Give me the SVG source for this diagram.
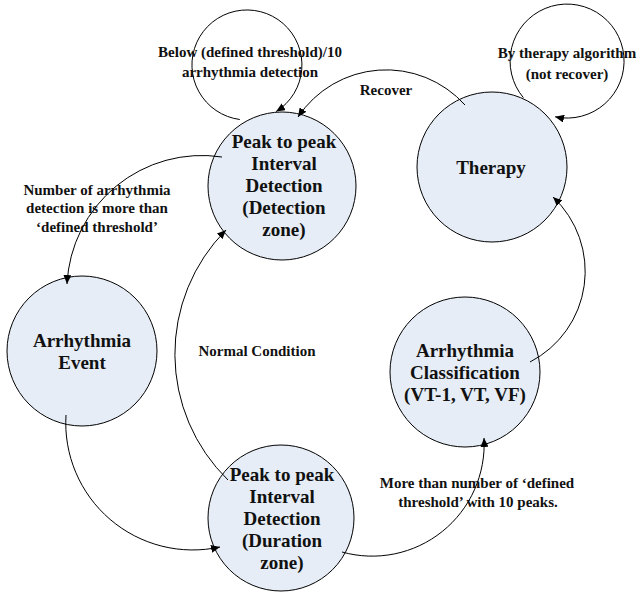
<svg xmlns="http://www.w3.org/2000/svg" width="638" height="595" viewBox="0 0 638 595">
<defs>
<style>
.node{fill:#E6EDF6;stroke:#000;stroke-width:1}
.nt{font-family:"Liberation Serif","Times New Roman",serif;font-weight:bold;font-size:19px;fill:#111;text-anchor:middle}
.lb{font-family:"Liberation Serif","Times New Roman",serif;font-weight:bold;font-size:15px;fill:#111;text-anchor:middle}
.edge{fill:none;stroke:#000;stroke-width:1;marker-end:url(#arr)}
</style>
<marker id="arr" markerWidth="10" markerHeight="8" refX="9" refY="4" orient="auto" markerUnits="userSpaceOnUse">
<path d="M0,0 L9,4 L0,8 z" fill="#000"/>
</marker>
</defs>
<rect width="638" height="595" fill="#fff"/>
<g id="node-detection">
<circle class="node" cx="282" cy="186" r="74"/>
<text class="nt" x="284" y="147.5">Peak to peak</text>
<text class="nt" x="284" y="169.5">Interval</text>
<text class="nt" x="284" y="191.5">Detection</text>
<text class="nt" x="284" y="213.5">(Detection</text>
<text class="nt" x="284" y="235.5">zone)</text>
</g>
<g id="node-therapy">
<circle class="node" cx="492" cy="167" r="75"/>
<text class="nt" x="491" y="173.5">Therapy</text>
</g>
<g id="node-event">
<circle class="node" cx="82" cy="351" r="75"/>
<text class="nt" x="82" y="346.5">Arrhythmia</text>
<text class="nt" x="82" y="368.5">Event</text>
</g>
<g id="node-classification">
<circle class="node" cx="465" cy="372" r="75"/>
<text class="nt" x="465" y="356.5">Arrhythmia</text>
<text class="nt" x="465" y="378.5">Classification</text>
<text class="nt" x="465" y="400.5">(VT-1, VT, VF)</text>
</g>
<g id="node-duration">
<circle class="node" cx="281" cy="518" r="73"/>
<text class="nt" x="282" y="480.5">Peak to peak</text>
<text class="nt" x="282" y="502.5">Interval</text>
<text class="nt" x="282" y="524.5">Detection</text>
<text class="nt" x="282" y="546.5">(Duration</text>
<text class="nt" x="282" y="568.5">zone)</text>
</g>
<g id="connectors">
<path class="edge" d="M239.8,119.5 A55,55 0 1 1 276.1,111.6"/>
<path class="edge" d="M523.4,97.7 A57,57 0 1 1 555.1,116.8"/>
<path class="edge" d="M465,105 A106,106 0 0 0 298,117"/>
<path class="edge" d="M222,157 A135,135 0 0 0 67,284"/>
<path class="edge" d="M66,415 A127,127 0 0 0 220,547"/>
<path class="edge" d="M228,480 A176,176 0 0 1 226,230"/>
<path class="edge" d="M342,552 A112,112 0 0 0 484,438"/>
<path class="edge" d="M530,362 A102,102 0 0 0 553,197"/>
</g>
<g id="labels">
<text class="lb" x="250" y="57">Below (defined threshold)/10</text>
<text class="lb" x="250" y="77">arrhythmia detection</text>
<text class="lb" x="386" y="95">Recover</text>
<text class="lb" x="567" y="58">By therapy algorithm</text>
<text class="lb" x="567" y="79">(not recover)</text>
<text class="lb" x="97" y="195">Number of arrhythmia</text>
<text class="lb" x="97" y="213">detection is more than</text>
<text class="lb" x="97" y="232">‘defined threshold’</text>
<text class="lb" x="257" y="356">Normal Condition</text>
<text class="lb" x="477" y="488">More than number of ‘defined</text>
<text class="lb" x="478" y="507">threshold’ with 10 peaks.</text>
</g>
</svg>
